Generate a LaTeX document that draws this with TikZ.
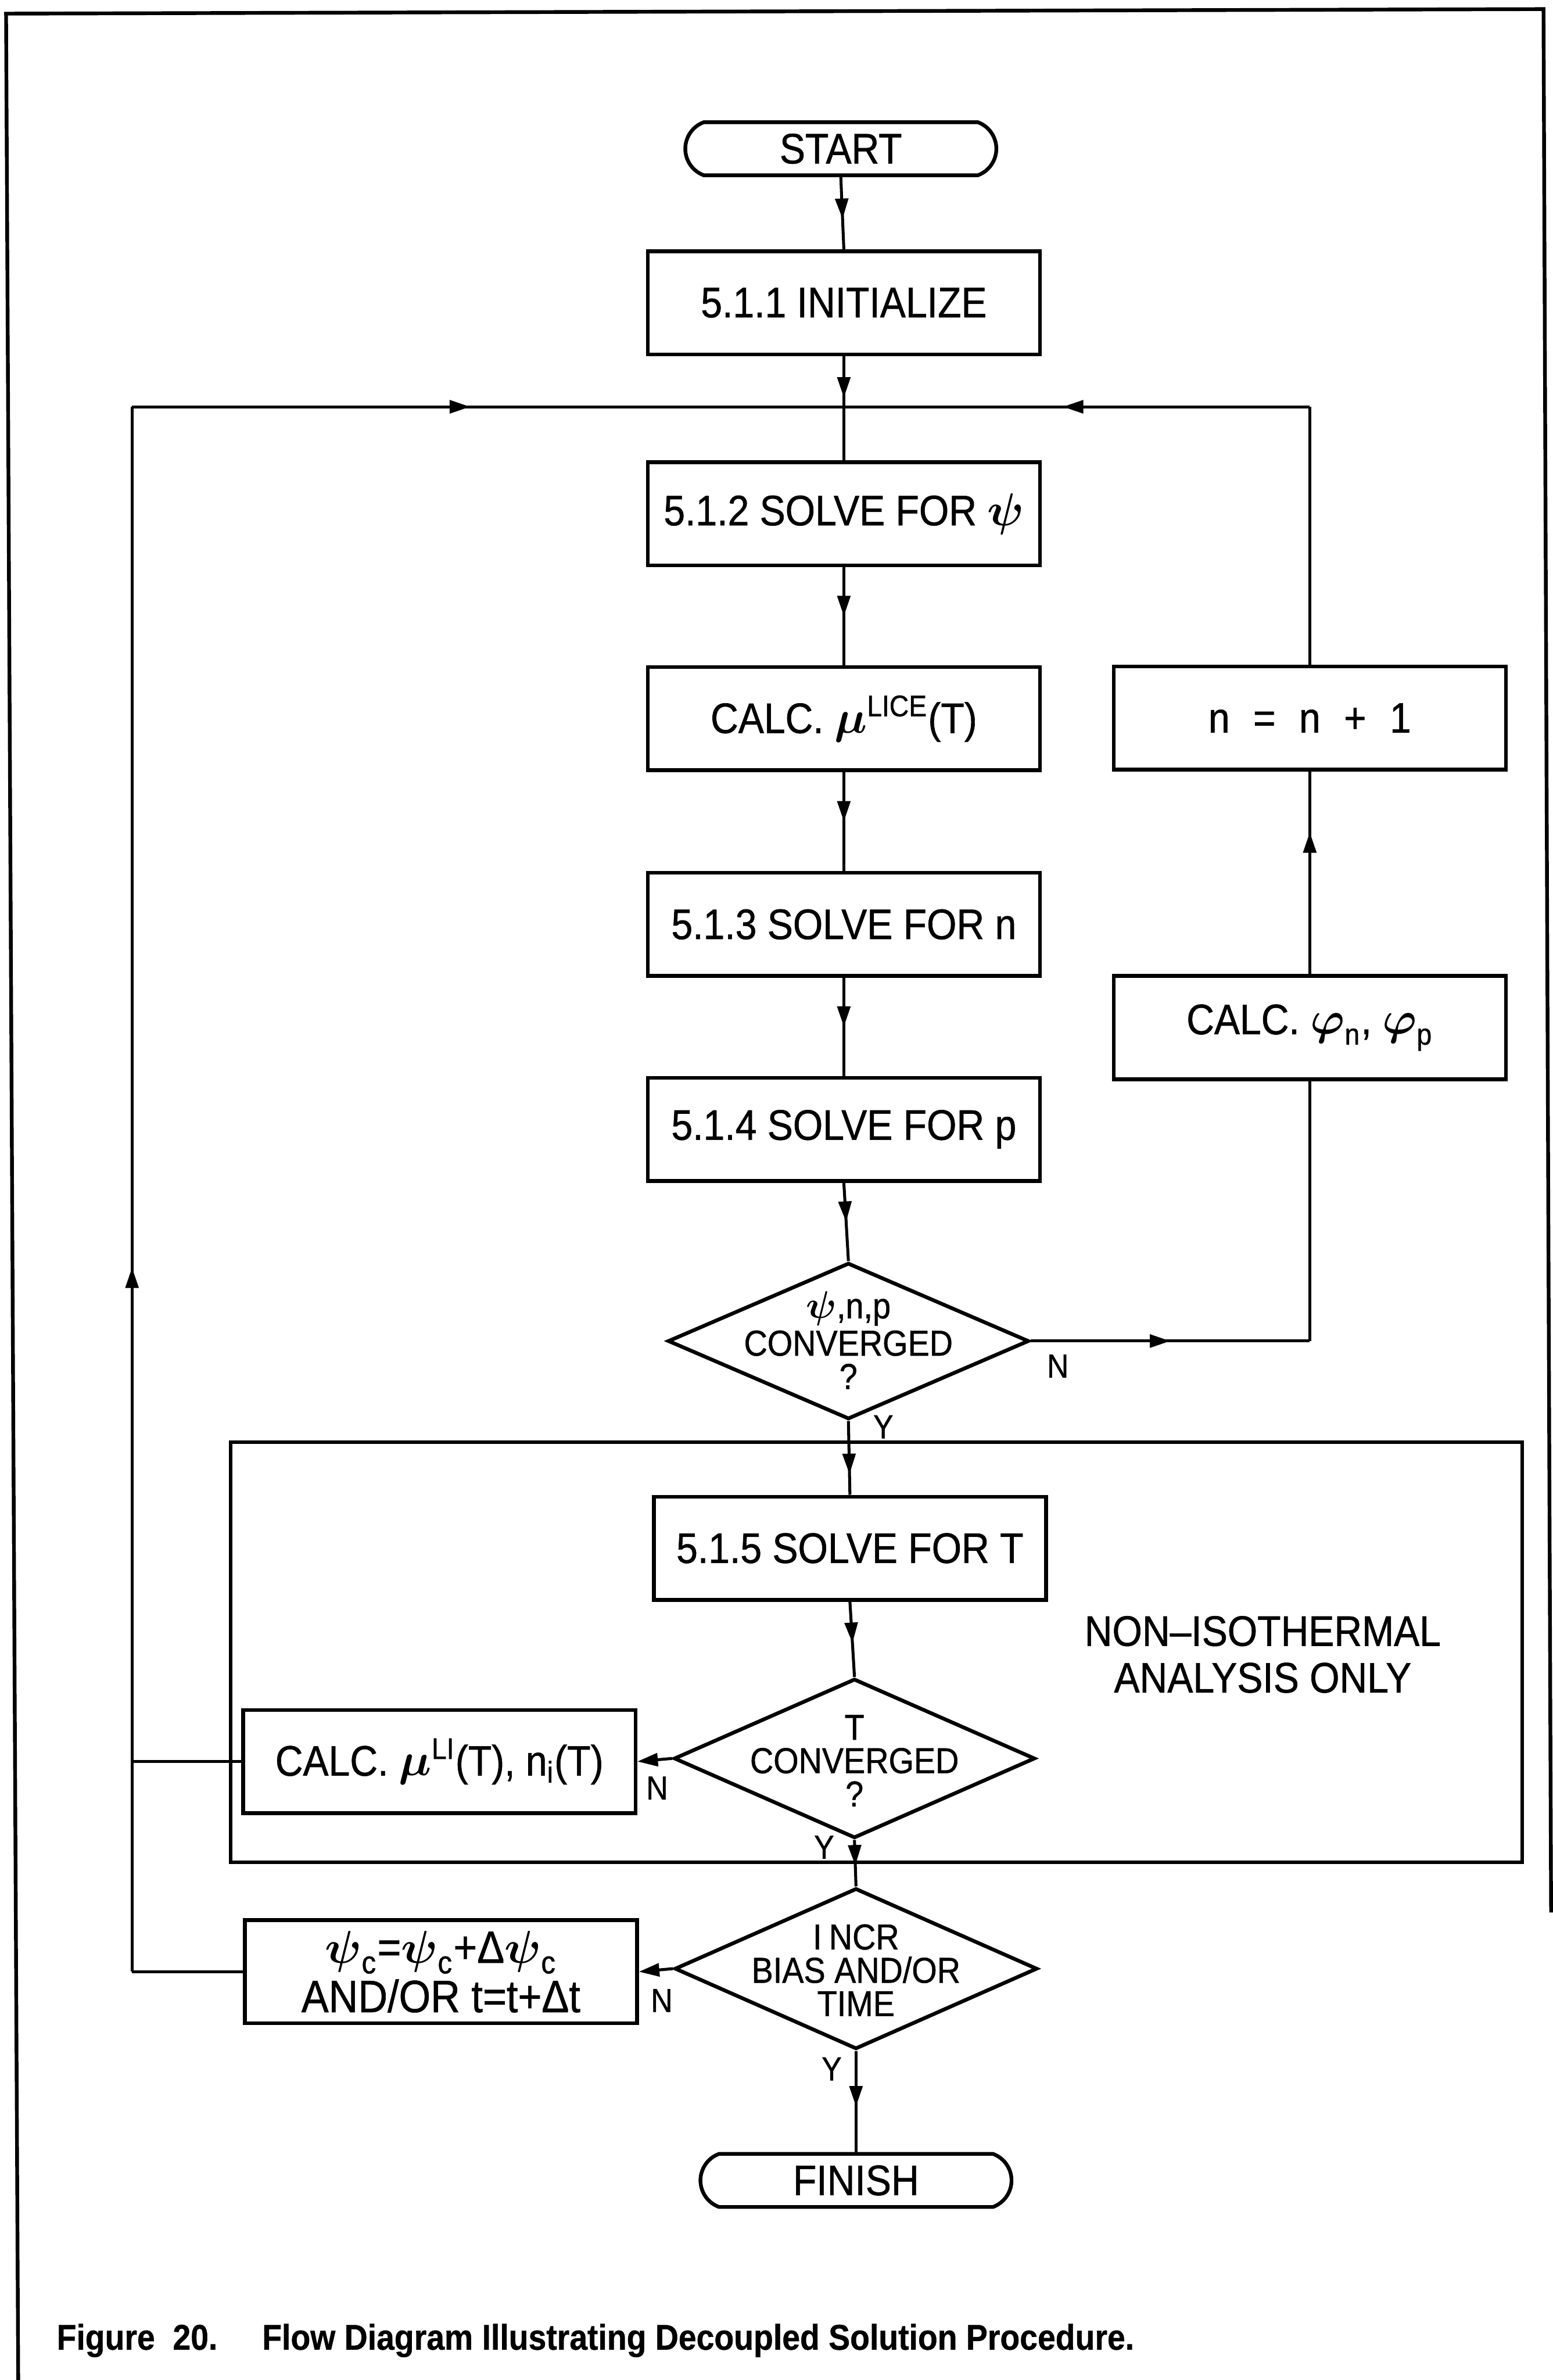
\documentclass[tikz,border=0pt]{standalone}
\usepackage{fontspec}
\usepackage{amsmath}
\usetikzlibrary{shapes.geometric,shapes.misc,arrows.meta,decorations.markings}
\newfontfamily\df[FakeStretch=0.9,FakeBold=0.8]{Liberation Sans}
\newfontfamily\cf[FakeStretch=0.9,FakeBold=0.6]{Liberation Sans}
\begin{document}
\begin{tikzpicture}[x=0.02cm,y=-0.02cm,
  every node/.style={font=\df\fontsize{16}{16}\selectfont},
  box/.style={draw, line width=1.4pt, rectangle, minimum width=5.17cm, minimum height=1.36cm, inner sep=0pt, align=center},
  term/.style={draw, line width=1.4pt, rounded rectangle, rounded rectangle arc length=140, minimum width=4.1cm, minimum height=0.7cm, inner sep=0pt},
  dia/.style={draw, line width=1.4pt, diamond, inner sep=0pt},
  dtext/.style={align=center, font=\df\fontsize{13.5}{12.5}\selectfont, inner sep=0pt},
  yn/.style={font=\df\fontsize{12.5}{14}\selectfont, inner sep=0pt},
  conn/.style={line width=1.1pt},
  midarr/.style={postaction={decorate}, decoration={markings, mark=at position #1 with {\arrow{Triangle[length=0.27cm,width=0.17cm]}}}},
  endtip/.style={-{Triangle[length=0.27cm,width=0.17cm]}}
]
\useasboundingbox (0,0) rectangle (1023,1568);
% outer frame
\draw[line width=1.4pt] (12,1568) -- (4,9) -- (1017,6) -- (1022,1260);

% non-isothermal region
\node[draw, line width=1.4pt, minimum width=17.02cm, minimum height=5.54cm, inner sep=0pt] (noniso) at (577.5,1088.5) {};
\node[align=center, font=\df\fontsize{16}{17.5}\selectfont] (nonisot) at (832,1090) {NON–ISOTHERMAL\\ANALYSIS ONLY};

% main column
\node[term] (start) at (554,98) {START};
\node[box] (init) at (556,199.5) {5.1.1 INITIALIZE};
\node[box] (spsi) at (556,338.5) {5.1.2 SOLVE FOR $\boldsymbol{\psi}$};
\node[box] (cmu) at (556,473.5) {CALC. $\boldsymbol{\mu}^{\text{LICE}}$(T)};
\node[box] (sn) at (556,609) {5.1.3 SOLVE FOR n};
\node[box] (sp) at (556,744) {5.1.4 SOLVE FOR p};
\node[dia, minimum width=4.76cm, minimum height=2.06cm] (d1) at (559,883.5) {};
\node[dtext] (d1t) at (559,883) {$\boldsymbol{\psi}$,n,p\\[1.5pt]CONVERGED\\?};
\node[box] (nplus) at (863,473) {n\hspace{0.55em}=\hspace{0.55em}n\hspace{0.55em}+\hspace{0.55em}1};
\node[box] (cphi) at (863,677) {CALC. $\boldsymbol{\varphi}_{\text{n}}$, $\boldsymbol{\varphi}_{\text{p}}$};
\node[box] (sT) at (560,1020) {5.1.5 SOLVE FOR T};
\node[dia, minimum width=4.76cm, minimum height=2.1cm] (d2) at (563,1158.5) {};
\node[dtext] (d2t) at (563,1160) {T\\CONVERGED\\?};
\node[box] (cmuli) at (289.5,1160.5) {CALC. $\boldsymbol{\mu}^{\text{LI}}$(T), n$_{\text{i}}$(T)};
\node[dia, minimum width=4.78cm, minimum height=2.12cm] (d3) at (564,1297) {};
\node[dtext] (d3t) at (564,1298) {I\hspace{0.2em}NCR\\BIAS AND/OR\\TIME};
\node[box, font=\df\fontsize{17}{18.5}\selectfont] (psic) at (290.5,1299) {$\boldsymbol{\psi}_{\text{c}}$=$\boldsymbol{\psi}_{\text{c}}$+Δ$\boldsymbol{\psi}_{\text{c}}$\\AND/OR t=t+Δt};
\node[term] (finish) at (564,1436.5) {FINISH};

% Y/N labels
\node[yn] (n1) at (697,900) {N};
\node[yn] (y1) at (582,940) {Y};
\node[yn] (n2) at (433,1178) {N};
\node[yn] (y2) at (543,1217) {Y};
\node[yn] (n3) at (436,1318) {N};
\node[yn] (y3) at (548,1363) {Y};

% junctions
\coordinate (jn) at (556,268);
\coordinate (rc1) at (863,883.5);
\coordinate (rc2) at (863,268);
\coordinate (lc1) at (87,1160.5);
\coordinate (lc2) at (87,1299);
\coordinate (lc3) at (87,268);

% connectors
\draw[conn, midarr=0.58] (start.south) -- (init.north);
\draw[conn, midarr=0.82] (init.south) -- (jn);
\draw[conn] (jn) -- (spsi.north);
\draw[conn, midarr=0.5] (spsi.south) -- (cmu.north);
\draw[conn, midarr=0.5] (cmu.south) -- (sn.north);
\draw[conn, midarr=0.5] (sn.south) -- (sp.north);
\draw[conn, midarr=0.5] (sp.south) -- (d1.north);
\draw[conn, midarr=0.5] (d1.east) -- (rc1);
\draw[conn] (rc1) -- (cphi.south);
\draw[conn, midarr=0.7] (cphi.north) -- (nplus.south);
\draw[conn] (nplus.north) -- (rc2);
\draw[conn, midarr=0.53] (rc2) -- (jn);
\draw[conn, midarr=0.72] (d1.south) -- (sT.north);
\draw[conn, midarr=0.55] (sT.south) -- (d2.north);
\draw[conn, endtip] (d2.west) -- (cmuli.east);
\draw[conn, midarr=0.55] (d2.south) -- (d3.north);
\draw[conn, endtip] (d3.west) -- (psic.east);
\draw[conn, midarr=0.55] (d3.south) -- (finish.north);
\draw[conn] (cmuli.west) -- (lc1);
\draw[conn] (psic.west) -- (lc2);
\draw[conn, midarr=0.45] (lc2) -- (lc3);
\draw[conn, midarr=0.475] (lc3) -- (jn);

% caption
\node[anchor=base west, font=\cf\bfseries\fontsize{13.4}{15}\selectfont, inner sep=0pt] (cap) at (37,1548) {Figure\hspace{0.5em}20.\hspace{1.25em}Flow Diagram Illustrating Decoupled Solution Procedure.};
\end{tikzpicture}
\end{document}
